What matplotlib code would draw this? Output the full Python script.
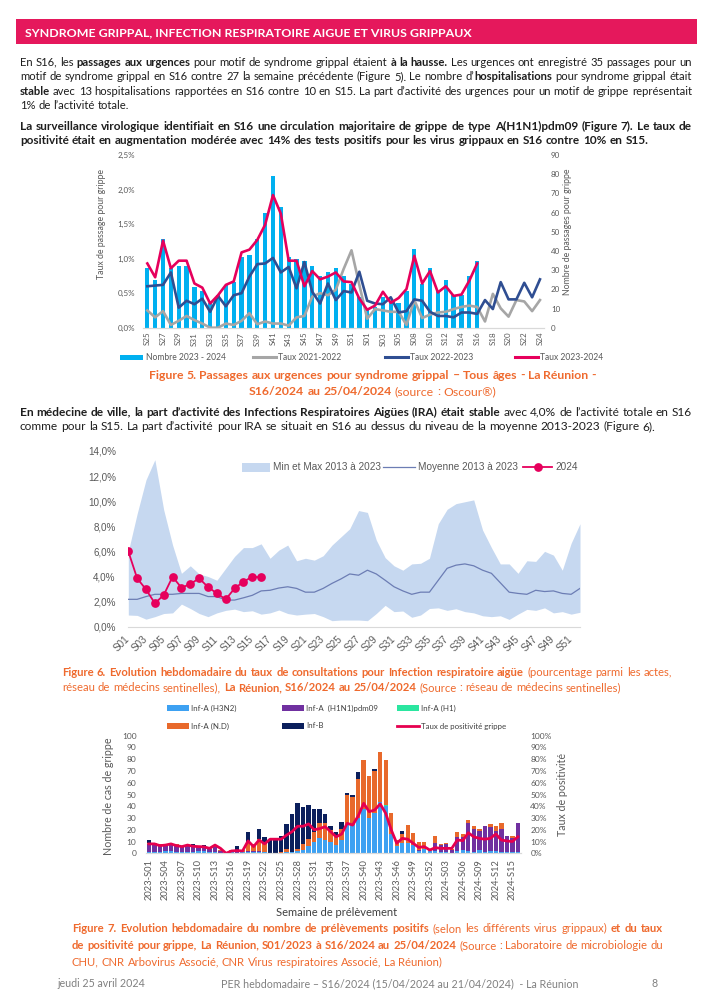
import matplotlib
matplotlib.use('Agg')
import matplotlib.pyplot as plt
from matplotlib.lines import Line2D
from matplotlib.patches import Rectangle
import numpy as np

# ================= DATA =================
# Figure 5 : passages aux urgences
fig5_weeks = ['S25', 'S26', 'S27', 'S28', 'S29', 'S30', 'S31', 'S32', 'S33', 'S34', 'S35', 'S36',
              'S37', 'S38', 'S39', 'S40', 'S41', 'S42', 'S43', 'S44', 'S45', 'S46', 'S47', 'S48',
              'S49', 'S50', 'S51', 'S52', 'S01', 'S02', 'S03', 'S04', 'S05', 'S06', 'S08', 'S09',
              'S10', 'S11', 'S12', 'S13', 'S14', 'S15', 'S16', 'S17', 'S18', 'S19', 'S20', 'S21',
              'S22', 'S23', 'S24']
nombre_2023_2024 = [31, 25, 46, 31, 32, 32, 21, 19, 13, 17, 22, 24, 37, 38, 46, 60, 79, 63, 37, 36,
                    35, 32, 27, 29, 31, 27, 23, 16, 10, 11, 16, 14, 13, 19, 41, 23, 31, 19, 25, 17,
                    17, 27, 35]
taux_2021_2022 = [0.25, 0.15, 0.24, 0.04, 0.10, 0.17, 0.11, 0.06, 0.00, 0.00, 0.06, 0.04, 0.10, 0.21,
                  0.05, 0.09, 0.06, 0.06, 0.03, 0.15, 0.17, 0.45, 0.50, 0.47, 0.55, 0.85, 1.12, 0.62,
                  0.13, 0.27, 0.25, 0.23, 0.23, 0.04, 0.40, 0.14, 0.19, 0.22, 0.23, 0.27, 0.30, 0.32,
                  0.30, 0.09, 0.49, 0.28, 0.16, 0.40, 0.38, 0.24, 0.40]
taux_2022_2023 = [0.60, 0.61, 0.62, 0.80, 0.29, 0.39, 0.34, 0.42, 0.23, 0.46, 0.31, 0.47, 0.50, 0.74,
                  0.92, 0.93, 1.01, 0.80, 0.88, 0.57, 0.95, 0.52, 0.35, 0.64, 0.40, 0.53, 0.51, 0.81,
                  0.39, 0.35, 0.34, 0.44, 0.22, 0.24, 0.41, 0.39, 0.23, 0.17, 0.17, 0.15, 0.22, 0.22,
                  0.20, 0.40, 0.27, 0.66, 0.41, 0.41, 0.65, 0.44, 0.70]
taux_2023_2024 = [0.93, 0.73, 1.26, 0.86, 0.97, 0.97, 0.64, 0.58, 0.35, 0.47, 0.62, 0.67, 1.09, 1.13,
                  1.27, 1.49, 1.92, 1.65, 0.97, 0.97, 0.60, 0.82, 0.70, 0.74, 0.80, 0.67, 0.66, 0.42,
                  0.26, 0.32, 0.52, 0.36, 0.43, 0.56, 1.04, 0.64, 0.82, 0.51, 0.60, 0.46, 0.48, 0.68,
                  0.93]
fig5_left_ticks = ['0,0%', '0,5%', '1,0%', '1,5%', '2,0%', '2,5%']

# Figure 6 : IRA, médecins sentinelles
fig6_weeks = ['S01', 'S02', 'S03', 'S04', 'S05', 'S06', 'S07', 'S08', 'S09', 'S10', 'S11', 'S12',
              'S13', 'S14', 'S15', 'S16', 'S17', 'S18', 'S19', 'S20', 'S21', 'S22', 'S23', 'S24',
              'S25', 'S26', 'S27', 'S28', 'S29', 'S30', 'S31', 'S32', 'S33', 'S34', 'S35', 'S36',
              'S37', 'S38', 'S39', 'S40', 'S41', 'S42', 'S43', 'S44', 'S45', 'S46', 'S47', 'S48',
              'S49', 'S50', 'S51', 'S52']
ira_max = [6.0, 9.0, 11.7, 13.3, 9.3, 6.5, 4.25, 4.85, 4.2, 4.0, 3.7, 4.65, 5.6, 6.3, 6.3, 6.6,
           5.45, 6.1, 6.5, 5.25, 5.45, 5.3, 5.65, 6.5, 7.15, 7.8, 9.25, 9.1, 6.9, 5.5, 4.85, 4.5,
           5.0, 5.05, 5.45, 8.2, 9.35, 9.8, 9.95, 10.1, 7.7, 6.3, 5.0, 5.0, 4.25, 5.25, 5.2, 6.0,
           5.7, 4.5, 6.65, 8.2]
ira_min = [0.93, 0.9, 0.6, 0.8, 1.05, 1.1, 1.8, 1.45, 1.05, 0.8, 1.1, 1.3, 1.4, 1.2, 1.27, 1.0,
           1.1, 1.33, 1.05, 0.93, 1.0, 1.05, 0.8, 0.48, 0.53, 0.53, 0.53, 0.48, 1.05, 1.7, 1.2, 1.25,
           0.75, 0.93, 1.45, 1.5, 1.3, 1.43, 1.2, 1.1, 0.87, 0.8, 0.87, 0.58, 1.0, 1.38, 1.3, 1.5,
           1.1, 1.2, 1.0, 1.15]
ira_moyenne = [2.18, 2.18, 2.4, 2.58, 2.58, 2.58, 2.65, 2.65, 2.65, 2.4, 2.4, 2.12, 2.12, 2.3, 2.5,
               2.85, 2.9, 3.08, 3.18, 3.05, 2.75, 2.75, 3.05, 3.45, 3.8, 4.2, 4.1, 4.5, 4.2, 3.7,
               3.18, 2.85, 2.58, 2.75, 2.75, 3.7, 4.65, 4.9, 5.0, 4.85, 4.5, 4.25, 3.5, 2.75, 2.65,
               2.58, 2.9, 2.8, 2.85, 2.65, 2.58, 3.05]
ira_2024 = [6.0, 3.85, 2.97, 1.86, 2.52, 3.98, 3.1, 3.4, 3.85, 3.16, 2.65, 2.18, 3.05, 3.58, 3.98,
            3.93]
fig6_yticks = ['0,0%', '2,0%', '4,0%', '6,0%', '8,0%', '10,0%', '12,0%', '14,0%']

# Figure 7 : virologie
fig7_weeks = ['2023-S01', '2023-S02', '2023-S03', '2023-S04', '2023-S05', '2023-S06', '2023-S07',
              '2023-S08', '2023-S09', '2023-S10', '2023-S11', '2023-S12', '2023-S13', '2023-S14',
              '2023-S15', '2023-S16', '2023-S17', '2023-S18', '2023-S19', '2023-S20', '2023-S21',
              '2023-S22', '2023-S23', '2023-S24', '2023-S25', '2023-S26', '2023-S27', '2023-S28',
              '2023-S29', '2023-S30', '2023-S31', '2023-S32', '2023-S33', '2023-S34', '2023-S35',
              '2023-S36', '2023-S37', '2023-S38', '2023-S39', '2023-S40', '2023-S41', '2023-S42',
              '2023-S43', '2023-S44', '2023-S45', '2023-S46', '2023-S47', '2023-S48', '2023-S49',
              '2023-S50', '2023-S51', '2023-S52', '2024-S01', '2024-S02', '2024-S03', '2024-S04',
              '2024-S05', '2024-S06', '2024-S07', '2024-S08', '2024-S09', '2024-S10', '2024-S11',
              '2024-S12', '2024-S13', '2024-S14', '2024-S15', '2024-S16']
inf_a_h3n2 = [1, 1, 1, 2, 2, 1, 1, 1, 1, 2, 2, 1, 1, 0, 0, 1, 0, 1, 1, 1, 1, 1, 0, 0, 0, 1, 1, 2,
              3, 6, 10, 13, 11, 10, 7, 11, 24, 24, 30, 38, 30, 34, 44, 40, 16, 6, 9, 9, 7, 2, 4, 2,
              2, 1, 1, 0, 2, 3, 2, 1, 3, 1, 2, 2, 1, 1, 1, 1]
inf_a_h1n1 = [7, 6, 6, 5, 5, 5, 4, 5, 4, 3, 3, 3, 4, 2, 0, 1, 1, 0, 1, 1, 1, 0, 0, 0, 0, 0, 0, 0,
              0, 0, 0, 0, 0, 0, 0, 0, 0, 0, 0, 0, 0, 0, 0, 0, 0, 0, 0, 0, 0, 1, 0, 0,
              7, 6, 7, 3, 12, 11, 24, 20, 16, 22, 20, 17, 20, 14, 12, 25]
inf_a_h1 = [0, 0, 0, 0, 0, 0, 0, 0, 0, 0, 0, 0, 0, 0, 0, 0, 0, 0, 0, 0, 0, 0, 0, 0, 0, 0, 0, 0,
            0, 0, 0, 0, 0, 0, 0, 0, 0, 0, 0, 0, 0, 0, 0, 1, 0, 0, 0, 0, 0, 0, 0, 0,
            0, 0, 0, 0, 0, 0, 0, 0, 0, 0, 0, 0, 0, 0, 0, 0]
inf_a_nd = [1, 2, 1, 0, 1, 2, 1, 1, 2, 1, 1, 1, 1, 1, 0, 1, 2, 2, 8, 6, 10, 7, 0, 0, 1, 3, 0, 2,
            5, 6, 8, 13, 15, 10, 8, 10, 26, 24, 33, 41, 36, 36, 42, 38, 18, 5, 7, 15, 10, 7, 6, 2,
            6, 1, 1, 1, 4, 2, 2, 2, 2, 0, 3, 4, 5, 0, 2, 0]
inf_b = [2, 0, 0, 0, 0, 0, 0, 0, 1, 0, 1, 0, 0, 0, 0, 0, 3, 0, 8, 0, 9, 6, 11, 11, 14, 21, 32, 39,
         31, 29, 20, 12, 7, 3, 3, 6, 1, 2, 6, 0, 0, 2, 0, 0, 0, 0, 3, 0, 0, 0, 0, 0,
         0, 0, 0, 0, 0, 0, 0, 0, 0, 0, 0, 0, 0, 0, 0, 0]
taux_positivite = [8, 8, 6.5, 7, 8, 6.5, 5.7, 7, 6, 5.7, 5.5, 4.2, 7, 4.2, 0, 2, 2.3, 2, 10.5, 5.7,
                   11.3, 8, 12, 12, 12, 15.5, 18.4, 23, 23, 25, 20, 21, 22.6, 18.4, 14, 16.4, 25.5,
                   24, 31.7, 42.5, 35.4, 36.8, 42, 34, 20, 8.5, 12.7, 12, 8.5, 5, 5.7, 2.8, 4.8,
                   4.2, 4.2, 4.2, 11.3, 10.8, 17.5, 14, 12.7, 12, 12.7, 16.4, 11.3, 10.5, 10, 14]

# ================= HELPERS =================
W, H = 707, 1000
fig = plt.figure(figsize=(W / 100, H / 100), dpi=100)
fig.patch.set_facecolor('white')
R = fig.canvas.get_renderer()

CAL = ['Lato', 'DejaVu Sans']
ARI = ['Liberation Sans', 'DejaVu Sans']
TXT = '#1e1e1e'
ORANGE = '#EF6A2E'
GREYTXT = '#595959'


def X(x):
    return x / W


def Y(y):
    return 1 - y / H


def axes_px(l, t, r, b):
    return fig.add_axes([X(l), Y(b), (r - l) / W, (b - t) / H])


def tw(s, size, bold=False, family=CAL):
    t = fig.text(0, 0, s, fontsize=size, fontweight='bold' if bold else 'normal', family=family)
    w = t.get_window_extent(R).width
    t.remove()
    return w


def fit(s, target, bold=False, family=CAL):
    return 10.0 * target / tw(s, 10.0, bold, family)


def parse(line):
    words = [[]]
    bold = False
    for i, part in enumerate(line.split('*')):
        if i > 0:
            bold = not bold
        toks = part.split(' ')
        for j, tok in enumerate(toks):
            if j > 0:
                words.append([])
            if tok:
                words[-1].append((tok, bold))
    return [w for w in words if w]


def space_w(size, family):
    return tw('a a', size, False, family) - tw('aa', size, False, family)


def natural(line, size, family=CAL):
    ws = parse(line)
    tot = sum(tw(s, size, b, family) for w in ws for s, b in w)
    return tot + space_w(size, family) * (len(ws) - 1)


def draw_line(line, x0, y, size, color, family=CAL, x1=None, align='left'):
    ws = parse(line)
    meas = [[(s, b, tw(s, size, b, family)) for s, b in w] for w in ws]
    tot = sum(m[2] for w in meas for m in w)
    sp = space_w(size, family)
    if align == 'justify' and len(ws) > 1:
        gap = (x1 - x0 - tot) / (len(ws) - 1)
        x = x0
    else:
        gap = sp
        full = tot + sp * (len(ws) - 1)
        x = x0 - full / 2 if align == 'center' else x0
    for w in meas:
        for s, b, wd in w:
            fig.text(X(x), Y(y), s, fontsize=size, fontweight='bold' if b else 'normal',
                     family=family, color=color, ha='left', va='baseline')
            x += wd
        x += gap


def paragraph(lines, x0, x1, y0, dy, base, color, family=CAL):
    size = base
    for ln in lines[:-1]:
        n = natural(ln, base, family)
        size = min(size, base * (x1 - x0) / n * 0.997)
    for k, ln in enumerate(lines):
        last = (k == len(lines) - 1)
        draw_line(ln, x0, y0 + k * dy, size, color, family, x1,
                  align='left' if last else 'justify')


def style_axis(ax, color='#D9D9D9'):
    for s in ['top', 'right', 'left']:
        ax.spines[s].set_visible(False)
    ax.spines['bottom'].set_color(color)
    ax.spines['bottom'].set_linewidth(0.8)
    ax.tick_params(length=0)


# ================= HEADER & TEXT =================
fig.add_artist(Rectangle((X(16), Y(44)), (697 - 16) / W, (44 - 19) / H,
                         transform=fig.transFigure, color='#E5185C', lw=0))
title = 'SYNDROME GRIPPAL, INFECTION RESPIRATOIRE AIGUE ET VIRUS GRIPPAUX'
fig.text(X(25), Y(36), title, fontsize=fit(title, 450, True), fontweight='bold',
         family=CAL, color='white', ha='left', va='baseline')

P1 = ["En S16, les *passages aux urgences* pour motif de syndrome grippal étaient *à la hausse.* Les urgences ont enregistré 35 passages pour un",
      "motif de syndrome grippal en S16 contre 27 la semaine précédente (Figure 5). Le nombre d’*hospitalisations* pour syndrome grippal était",
      "*stable* avec 13 hospitalisations rapportées en S16 contre 10 en S15. La part d’activité des urgences pour un motif de grippe représentait",
      "1% de l’activité totale."]
paragraph(P1, 20, 692, 65.5, 14.6, 10, TXT)

P2 = ["*La surveillance virologique identifiait en S16 une circulation majoritaire de grippe de type A(H1N1)pdm09 (Figure 7). Le taux de*",
      "*positivité était en augmentation modérée avec 14% des tests positifs pour les virus grippaux en S16 contre 10% en S15.*"]
paragraph(P2, 20, 692, 129.5, 14.6, 10, TXT)

# ================= FIGURE 5 =================
ax5 = axes_px(143.4, 155, 543.9, 327.7)
x5 = np.arange(len(fig5_weeks))
ax5.bar(x5[:len(nombre_2023_2024)], nombre_2023_2024, width=0.55, color='#00B0F0', zorder=2)
ax5.set_ylim(0, 90)
ax5.set_xlim(-0.5, len(fig5_weeks) - 0.5)
ax5t = ax5.twinx()
ax5t.plot(x5, taux_2021_2022, color='#A6A6A6', lw=1.9, solid_joinstyle='round')
ax5t.plot(x5, taux_2022_2023, color='#2F4E92', lw=1.9, solid_joinstyle='round')
ax5t.plot(x5[:len(taux_2023_2024)], taux_2023_2024, color='#E6005C', lw=1.9, solid_joinstyle='round')
ax5t.set_ylim(0, 2.5)
ax5t.set_xlim(-0.5, len(fig5_weeks) - 0.5)
for a in (ax5, ax5t):
    style_axis(a)
ax5.yaxis.tick_right()
ax5t.yaxis.tick_left()
tk5 = fit('2,5%', 17.5)
ax5.set_yticks(range(0, 91, 10))
ax5.set_yticklabels([str(v) for v in range(0, 91, 10)], fontsize=tk5, family=CAL, color=GREYTXT)
ax5t.set_yticks([0, 0.5, 1.0, 1.5, 2.0, 2.5])
ax5t.set_yticklabels(fig5_left_ticks, fontsize=tk5, family=CAL, color=GREYTXT)
ax5.set_xticks(x5[::2])
ax5.set_xticklabels(fig5_weeks[::2], rotation=90, fontsize=tk5, family=CAL, color=GREYTXT)
ax5.tick_params(axis='x', pad=3)
ax5.tick_params(axis='y', pad=5)
ax5t.tick_params(axis='y', pad=6)
lab5 = fit('Taux de passage pour grippe', 110)
fig.text(X(101.5), Y(224), 'Taux de passage pour grippe', rotation=90, fontsize=lab5,
         family=CAL, color=GREYTXT, ha='center', va='center')
fig.text(X(568), Y(232), 'Nombre de passages pour grippe', rotation=90, fontsize=lab5,
         family=CAL, color=GREYTXT, ha='center', va='center')

# legend fig 5
lg5 = fit('Nombre 2023 - 2024', 80)
yl5 = 357.5
fig.add_artist(Rectangle((X(120), Y(yl5 + 2.5)), 23 / W, 5 / H, transform=fig.transFigure,
                         color='#00B0F0', lw=0))
fig.text(X(146), Y(yl5), 'Nombre 2023 - 2024', fontsize=lg5, family=CAL, color=GREYTXT,
         ha='left', va='center')
for (xa, xb, col, lab) in [(253, 276, '#A6A6A6', 'Taux 2021-2022'),
                            (385, 408, '#2F4E92', 'Taux 2022-2023'),
                            (515, 538, '#E6005C', 'Taux 2023-2024')]:
    fig.add_artist(Line2D([X(xa), X(xb)], [Y(yl5), Y(yl5)], transform=fig.transFigure,
                          color=col, lw=2.2))
    fig.text(X(xb + 2), Y(yl5), lab, fontsize=lg5, family=CAL, color=GREYTXT,
             ha='left', va='center')

cap5 = ["*Figure 5. Passages aux urgences pour syndrome grippal – Tous âges - La Réunion -*",
        "*S16/2024 au 25/04/2024* (source : Oscour®)"]
c5 = 7.6 * 451 / natural(cap5[0], 7.6)
draw_line(cap5[0], 372.5, 378.5, c5, ORANGE, align='center')
draw_line(cap5[1], 372.5, 395, c5, ORANGE, align='center')

P3 = ["*En médecine de ville, la part d’activité des Infections Respiratoires Aigües (IRA) était stable* avec 4,0% de l’activité totale en S16",
      "comme pour la S15. La part d’activité pour IRA se situait en S16 au dessus du niveau de la moyenne 2013-2023 (Figure 6)."]
paragraph(P3, 20, 692, 415.5, 14.6, 10, TXT)

# ================= FIGURE 6 =================
ax6 = axes_px(128.3, 450.9, 580, 626.7)
x6 = np.arange(len(fig6_weeks))
ax6.fill_between(x6, ira_min, ira_max, color='#C6D8F0', lw=0)
ax6.plot(x6, ira_moyenne, color='#6C7DB4', lw=0.9)
ax6.plot(x6[:len(ira_2024)], ira_2024, color='#E6005C', lw=1.3, marker='o', ms=6.3,
         markeredgewidth=0)
ax6.set_xlim(0, len(fig6_weeks) - 1)
ax6.set_ylim(0, 14)
style_axis(ax6)
tk6 = fit('12,0%', 28, family=ARI)
ax6.set_yticks(range(0, 15, 2))
ax6.set_yticklabels(fig6_yticks, fontsize=tk6, family=ARI, color=GREYTXT)
ax6.tick_params(axis='y', pad=9)
ax6.set_xticks(x6[::2])
ax6.set_xticklabels(fig6_weeks[::2], rotation=45, ha='right', va='center', rotation_mode='anchor',
                    fontsize=tk6, family=ARI, color=GREYTXT)
ax6.tick_params(axis='x', pad=8)

lg6 = fit('Min et Max 2013 à 2023', 108, family=ARI)
yl6 = 467
fig.add_artist(Rectangle((X(242), Y(yl6 + 4.5)), 28 / W, 9 / H, transform=fig.transFigure,
                         color='#C6D8F0', lw=0))
fig.text(X(273), Y(yl6), 'Min et Max 2013 à 2023', fontsize=lg6, family=ARI, color=GREYTXT,
         ha='left', va='center')
fig.add_artist(Line2D([X(383), X(415)], [Y(yl6), Y(yl6)], transform=fig.transFigure,
                      color='#6C7DB4', lw=0.9))
fig.text(X(418), Y(yl6), 'Moyenne 2013 à 2023', fontsize=lg6, family=ARI, color=GREYTXT,
         ha='left', va='center')
fig.add_artist(Line2D([X(523), X(552)], [Y(yl6), Y(yl6)], transform=fig.transFigure,
                      color='#E6005C', lw=1.3))
fig.add_artist(Line2D([X(537.5)], [Y(yl6)], transform=fig.transFigure, color='#E6005C',
                      marker='o', ms=6.3, markeredgewidth=0))
fig.text(X(555), Y(yl6), '2024', fontsize=lg6, family=ARI, color=GREYTXT, ha='left', va='center')

cap6 = ["*Figure 6. Evolution hebdomadaire du taux de consultations pour Infection respiratoire aigüe* (pourcentage parmi les actes,",
        "réseau de médecins sentinelles), *La Réunion, S16/2024 au 25/04/2024* (Source : réseau de médecins sentinelles)"]
paragraph(cap6, 62, 672, 675.5, 15.5, 10, ORANGE)

# ================= FIGURE 7 =================
ax7 = axes_px(146.2, 735.7, 520.6, 853.3)
x7 = np.arange(len(fig7_weeks))
bottom = np.zeros(len(fig7_weeks))
for vals, col in [(inf_a_h3n2, '#3DA1F2'), (inf_a_h1n1, '#7030A0'), (inf_a_h1, '#2BE6A0'),
                  (inf_a_nd, '#E8692B'), (inf_b, '#0B1F5C')]:
    v = np.array(vals, dtype=float)
    ax7.bar(x7, v, bottom=bottom, width=0.8, color=col, lw=0, zorder=2)
    bottom = bottom + v
ax7.set_xlim(-0.5, len(fig7_weeks) - 0.5)
ax7.set_ylim(0, 100)
ax7r = ax7.twinx()
ax7r.plot(x7, taux_positivite, color='#E6004F', lw=2.0, solid_joinstyle='round')
ax7r.set_ylim(0, 100)
ax7r.set_xlim(-0.5, len(fig7_weeks) - 0.5)
for a in (ax7, ax7r):
    style_axis(a)
tk7 = fit('100', 14.5)
ax7.set_yticks(range(0, 101, 10))
ax7.set_yticklabels([str(v) for v in range(0, 101, 10)], fontsize=tk7, family=CAL, color=GREYTXT)
ax7r.set_yticks(range(0, 101, 10))
ax7r.set_yticklabels([f'{v}%' for v in range(0, 101, 10)], fontsize=tk7, family=CAL,
                     color=GREYTXT)
ax7.tick_params(axis='y', pad=7)
ax7r.tick_params(axis='y', pad=7)
ax7.set_xticks(x7[::3])
ax7.set_xticklabels(fig7_weeks[::3], rotation=90, fontsize=fit('2023-S01', 41), family=CAL,
                    color=GREYTXT)
ax7.tick_params(axis='x', pad=4)
fig.text(X(108), Y(796), 'Nombre de cas de grippe', rotation=90,
         fontsize=fit('Nombre de cas de grippe', 117), family=CAL, color=GREYTXT,
         ha='center', va='center')
fig.text(X(563), Y(795), 'Taux de positivité', rotation=90,
         fontsize=fit('Nombre de cas de grippe', 117), family=CAL, color=GREYTXT,
         ha='center', va='center')
fig.text(X(337), Y(913), 'Semaine de prélèvement', fontsize=fit('Semaine de prélèvement', 121),
         family=CAL, color='#404040', ha='center', va='center')

lg7 = fit('Inf-A (H3N2)', 45)
for (xa, yy, col, lab, kind) in [(167, 708, '#3DA1F2', 'Inf-A (H3N2)', 'p'),
                                 (282, 708, '#7030A0', 'Inf-A  (H1N1)pdm09', 'p'),
                                 (397, 708, '#2BE6A0', 'Inf-A (H1)', 'p'),
                                 (167, 726, '#E8692B', 'Inf-A (N.D)', 'p'),
                                 (282, 726, '#0B1F5C', 'Inf-B', 'p'),
                                 (397, 726, '#E6004F', 'Taux de positivité grippe', 'l')]:
    if kind == 'p':
        fig.add_artist(Rectangle((X(xa), Y(yy + 3)), 22 / W, 6 / H, transform=fig.transFigure,
                                 color=col, lw=0))
    else:
        fig.add_artist(Line2D([X(xa), X(xa + 22)], [Y(yy), Y(yy)], transform=fig.transFigure,
                              color=col, lw=2.0))
    fig.text(X(xa + 24), Y(yy), lab, fontsize=lg7, family=CAL, color='#404040',
             ha='left', va='center')

cap7 = ["*Figure 7. Evolution hebdomadaire du nombre de prélèvements positifs* (selon les différents virus grippaux) *et du taux*",
        "*de positivité pour grippe, La Réunion, S01/2023 à S16/2024 au 25/04/2024* (Source : Laboratoire de microbiologie du",
        "CHU, CNR Arbovirus Associé, CNR Virus respiratoires Associé, La Réunion)"]
paragraph(cap7, 72, 663, 932, 16.8, 10, ORANGE)

# ================= FOOTER =================
fsz = fit('jeudi 25 avril 2024', 88)
fig.text(X(57), Y(987), 'jeudi 25 avril 2024', fontsize=fsz, family=CAL, color='#808080',
         ha='left', va='baseline')
fig.text(X(221), Y(987), 'PER hebdomadaire – S16/2024 (15/04/2024 au 21/04/2024)  - La Réunion',
         fontsize=fsz, family=CAL, color='#808080', ha='left', va='baseline')
fig.text(X(652), Y(987), '8', fontsize=fsz, family=CAL, color='#808080', ha='left', va='baseline')

fig.savefig('out.png', dpi=100)
